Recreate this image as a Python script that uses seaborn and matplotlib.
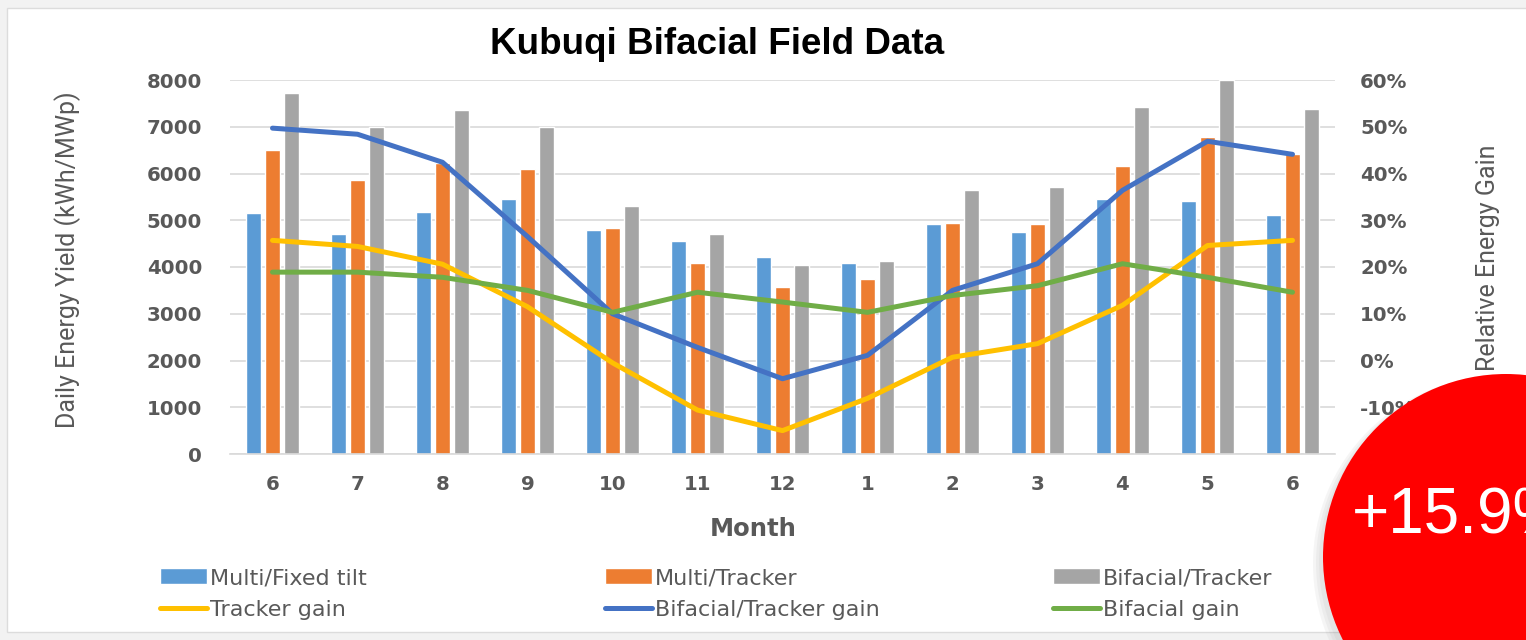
import numpy as np
import pandas as pd
import matplotlib
matplotlib.use("Agg")
import matplotlib.pyplot as plt
import seaborn as sns
from matplotlib.patches import Circle, Rectangle
from matplotlib.ticker import FuncFormatter, MultipleLocator

# data
months = ["6", "7", "8", "9", "10", "11", "12", "1", "2", "3", "4", "5", "6"]
fixed_tilt = [5150, 4700, 5170, 5450, 4800, 4560, 4220, 4080, 4920, 4740, 5450, 5420, 5120]
multi_tracker = [6500, 5870, 6230, 6100, 4830, 4080, 3580, 3750, 4950, 4930, 6150, 6780, 6420]
bifacial_tracker = [7720, 7000, 7350, 7000, 5300, 4710, 4050, 4120, 5650, 5720, 7420, 8000, 7380]
tracker_gain = [25.7, 24.4, 20.6, 11.5, -0.5, -10.6, -15.0, -8.1, 0.7, 3.6, 11.8, 24.6, 25.7]
bif_tracker_gain = [49.7, 48.4, 42.4, 26.5, 10.0, 2.8, -3.9, 1.1, 15.0, 20.7, 36.4, 46.9, 44.1]
bifacial_gain = [18.9, 18.9, 17.8, 15.0, 10.3, 14.6, 12.5, 10.3, 13.9, 16.0, 20.7, 17.8, 14.6]

bar_names = ["Multi/Fixed tilt", "Multi/Tracker", "Bifacial/Tracker"]
line_names = ["Tracker gain", "Bifacial/Tracker gain", "Bifacial gain"]
bar_colors = ["#5B9BD5", "#ED7D31", "#A5A5A5"]
line_colors = ["#FFC000", "#4472C4", "#70AD47"]

pos = list(range(len(months)))
bars = pd.DataFrame({
    "pos": pos * 3,
    "yield": fixed_tilt + multi_tracker + bifacial_tracker,
    "series": [n for n in bar_names for _ in pos],
})
lines = pd.DataFrame({
    "pos": pos * 3,
    "gain": tracker_gain + bif_tracker_gain + bifacial_gain,
    "series": [n for n in line_names for _ in pos],
})

sns.set_theme(style="white")
plt.rcParams["font.family"] = ["DejaVu Sans"]

W, H = 1526, 640
fig = plt.figure(figsize=(W / 100, H / 100), dpi=100)
fig.patch.set_facecolor("#f2f2f2")
fig.add_artist(Rectangle((7 / W, 1 - 632 / H), 1.0, (632 - 8) / H, transform=fig.transFigure,
                         facecolor="white", edgecolor="#dcdcdc", lw=1, zorder=-10))

ax = fig.add_axes([230 / W, 1 - 454 / H, (1335 - 230) / W, (454 - 80) / H])
ax.patch.set_alpha(0)

sns.barplot(data=bars, x="pos", y="yield", hue="series", palette=bar_colors,
            width=0.66, gap=0.2, saturation=1, ax=ax)
ax2 = ax.twinx()
sns.lineplot(data=lines, x="pos", y="gain", hue="series", palette=line_colors,
             lw=3.6, sort=False, ax=ax2)

bar_h, bar_l = ax.get_legend_handles_labels()
line_h, line_l = ax2.get_legend_handles_labels()
ax.get_legend().remove()
ax2.get_legend().remove()

ax.set_xlim(-0.5, 12.5)
ax.set_ylim(0, 8000)
ax.yaxis.set_major_locator(MultipleLocator(1000))
ax2.set_ylim(-20, 60)
ax2.yaxis.set_major_locator(MultipleLocator(10))
ax2.yaxis.set_major_formatter(FuncFormatter(lambda v, p: f"{v:.0f}%"))
ax.set_xticks(pos)
ax.set_xticklabels(months)
ax.set_xlabel("")
ax.set_ylabel("")
ax2.set_ylabel("")

ax.yaxis.grid(True, color="#d9d9d9", lw=1.2)
ax.set_axisbelow(True)
for a in (ax, ax2):
    for s in a.spines.values():
        s.set_visible(False)
ax.spines["bottom"].set_visible(True)
ax.spines["bottom"].set_color("#d9d9d9")
ax.spines["bottom"].set_linewidth(1.2)

tick_color = "#595959"
ax.tick_params(axis="y", length=0, pad=20, labelsize=14.2, labelcolor=tick_color)
ax.tick_params(axis="x", length=0, pad=15, labelsize=14.2, labelcolor=tick_color)
ax2.tick_params(axis="y", length=0, pad=18, labelsize=14.2, labelcolor=tick_color)
for lab in ax.get_xticklabels() + ax.get_yticklabels() + ax2.get_yticklabels():
    lab.set_fontweight("bold")

fig.text(717 / W, 1 - 44 / H, "Kubuqi Bifacial Field Data", ha="center", va="center",
         fontsize=26.5, fontweight="bold", color="black", family=["Liberation Sans", "DejaVu Sans"])
fig.text(753 / W, 1 - 529 / H, "Month", ha="center", va="center",
         fontsize=17.5, fontweight="bold", color=tick_color)
fig.text(68 / W, 1 - 260 / H, "Daily Energy Yield (kWh/MWp)", ha="center", va="center",
         rotation=90, fontsize=18, color=tick_color, family=["Roboto", "DejaVu Sans"])
fig.text(1488 / W, 1 - 258 / H, "Relative Energy Gain", ha="center", va="center",
         rotation=90, fontsize=18, color=tick_color, family=["Roboto", "DejaVu Sans"])

# legend: three columns, bar on top and line below
col_x = [160, 605, 1053]
for i in range(3):
    fig.legend([bar_h[i], line_h[i]], [bar_l[i], line_l[i]], loc="upper left",
               bbox_to_anchor=(col_x[i] / W, 1 - 568 / H), frameon=False,
               borderpad=0, borderaxespad=0, handlelength=2.1, handletextpad=0.15,
               labelspacing=0.55, prop={"family": ["DejaVu Sans"], "size": 16},
               labelcolor=tick_color)

# red badge overlay with soft shadow
for k in range(3):
    fig.add_artist(Circle(((1503 - k) / 100, (H - 562 - k) / 100), (184 + 2 * k) / 100,
                          transform=fig.dpi_scale_trans, facecolor="#7f7f7f", alpha=0.07,
                          edgecolor="none", zorder=20))
fig.add_artist(Circle((1506 / 100, (H - 557) / 100), 183 / 100, transform=fig.dpi_scale_trans,
                      facecolor="#ff0000", edgecolor="none", zorder=21))
fig.text(1352 / 100, (H - 534) / 100, "+15.9%", transform=fig.dpi_scale_trans,
         ha="left", va="baseline", fontsize=46, color="white", zorder=22,
         family=["Liberation Sans", "DejaVu Sans"])

fig.savefig("out.png", dpi=100, facecolor=fig.get_facecolor())
